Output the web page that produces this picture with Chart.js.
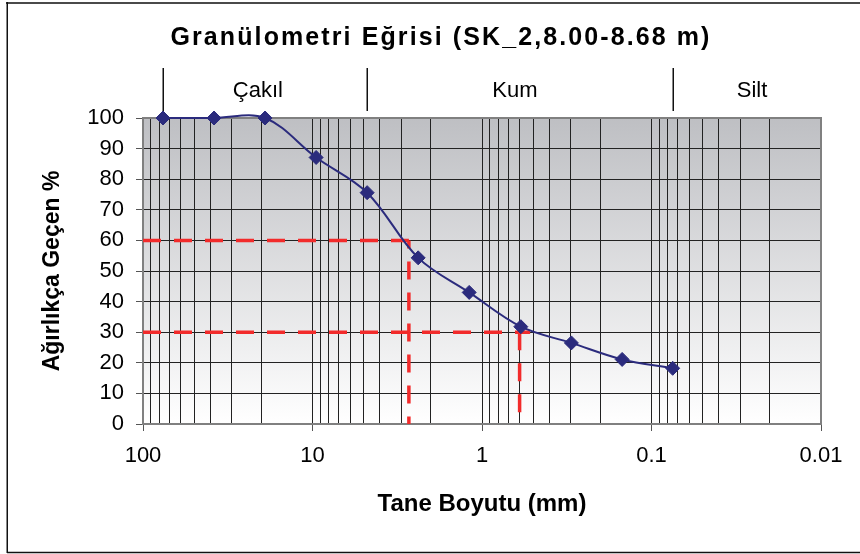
<!DOCTYPE html>
<html>
<head>
<meta charset="utf-8">
<script src="https://cdn.jsdelivr.net/npm/chart.js@4.4.0/dist/chart.umd.min.js"></script>
<style>
  html, body { margin: 0; padding: 0; background: #ffffff; }
  #wrap { width: 860px; height: 554px; }
</style>
</head>
<body>
<div id="wrap"><canvas id="c" width="860" height="554"></canvas></div>
<script>
// ---- data ----
const grainSize = [76.2, 38.1, 19.05, 9.52, 4.76, 2.38, 1.19, 0.59, 0.297, 0.149, 0.075];
const percentPassing = [100, 100, 100, 87.1, 75.6, 54.3, 43.0, 31.8, 26.5, 21.1, 18.2];
const d60Size = 2.7;
const d30Size = 0.6;
const d30LineEnd = 0.52;
const yTicks = [0, 10, 20, 30, 40, 50, 60, 70, 80, 90, 100];
const xMajorTicks = [100, 10, 1, 0.1, 0.01];
const soilBoundaries = [76.2, 4.75, 0.075];
const soilNames = ['Çakıl', 'Kum', 'Silt'];
const soilLabelAt = [21, 0.64, 0.0255];
const titleText = 'Granülometri Eğrisi (SK_2,8.00-8.68 m)';
const xTitle = 'Tane Boyutu (mm)';
const yTitle = 'Ağırlıkça Geçen %';

// log grid values 0.01 ... 100
const xGridValues = [];
for (let e = -2; e <= 1; e++) {
  for (let m = 1; m <= 9; m++) xGridValues.push(Number((m * Math.pow(10, e)).toPrecision(6)));
}
xGridValues.push(100);

const FONT = '"Liberation Sans", Arial, Helvetica, sans-serif';
Chart.defaults.font.family = FONT;
Chart.defaults.color = '#000';

const decor = {
  id: 'decor',
  beforeDraw(chart) {
    const { ctx, chartArea: a } = chart;
    ctx.save();
    // plot background gradient
    const g = ctx.createLinearGradient(0, a.top, 0, a.bottom);
    g.addColorStop(0, '#bebfc3');
    g.addColorStop(1, '#ffffff');
    ctx.fillStyle = g;
    ctx.fillRect(a.left, a.top, a.right - a.left, a.bottom - a.top);
    // outer frame
    ctx.strokeStyle = '#4a4a4a';
    ctx.lineWidth = 2;
    ctx.beginPath(); ctx.moveTo(6, 3); ctx.lineTo(chart.width, 3); ctx.stroke();
    ctx.strokeStyle = '#111';
    ctx.lineWidth = 1.5;
    ctx.beginPath(); ctx.moveTo(7.25, 2); ctx.lineTo(7.25, 553); ctx.stroke();
    ctx.beginPath(); ctx.moveTo(7, 552.5); ctx.lineTo(chart.width, 552.5); ctx.stroke();
    // title
    ctx.fillStyle = '#000';
    ctx.font = 'bold 25px ' + FONT;
    try { ctx.letterSpacing = '2.1px'; } catch (e) {}
    ctx.textAlign = 'center';
    ctx.textBaseline = 'alphabetic';
    ctx.fillText(titleText, 441, 45);
    try { ctx.letterSpacing = '0px'; } catch (e) {}
    // soil class band
    const xs = chart.scales.x;
    ctx.strokeStyle = '#111';
    ctx.lineWidth = 1.5;
    soilBoundaries.forEach(v => {
      const px = Math.round(xs.getPixelForValue(v)) + 0.25;
      ctx.beginPath(); ctx.moveTo(px, 68); ctx.lineTo(px, 111); ctx.stroke();
    });
    ctx.font = '22px ' + FONT;
    ctx.textBaseline = 'middle';
    soilNames.forEach((n, i) => {
      ctx.fillText(n, xs.getPixelForValue(soilLabelAt[i]), 91);
    });
    ctx.restore();
  },
  beforeDatasetsDraw(chart) {
    const { ctx, chartArea: a } = chart;
    ctx.save();
    ctx.strokeStyle = '#808080';
    ctx.lineWidth = 2;
    ctx.strokeRect(a.left, a.top, a.right - a.left, a.bottom - a.top);
    ctx.restore();
  }
};

const RED = '#f22b2b';
const redLine = (pts, offset) => ({
  data: pts,
  showLine: true,
  borderColor: RED,
  backgroundColor: RED,
  borderWidth: 3.5,
  borderDash: [18, 13],
  borderDashOffset: offset || 0,
  pointRadius: 0,
  pointHoverRadius: 0,
  tension: 0,
  clip: false
});

new Chart(document.getElementById('c'), {
  type: 'scatter',
  data: {
    datasets: [
      {
        data: grainSize.map((x, i) => ({ x, y: percentPassing[i] })),
        showLine: true,
        borderColor: '#2b2b7d',
        backgroundColor: '#2b2b7d',
        borderWidth: 2,
        pointStyle: 'rectRot',
        pointRadius: 7,
        pointBorderWidth: 1,
        tension: 0.35,
        capBezierPoints: false,
        clip: false
      },
      redLine([{ x: 100, y: 60 }, { x: d60Size, y: 60 }]),
      redLine([{ x: d60Size, y: 60 }, { x: d60Size, y: 0 }], 10),
      redLine([{ x: 100, y: 30 }, { x: d30LineEnd, y: 30 }]),
      redLine([{ x: d30Size, y: 30 }, { x: d30Size, y: 0 }])
    ]
  },
  options: {
    responsive: false,
    animation: false,
    events: [],
    layout: { padding: { top: 118, right: 39, bottom: 0, left: 0 } },
    plugins: { legend: { display: false }, tooltip: { enabled: false }, title: { display: false } },
    scales: {
      x: {
        type: 'logarithmic',
        reverse: true,
        min: 0.01,
        max: 100,
        afterBuildTicks: s => { s.ticks = xGridValues.map(v => ({ value: v })); },
        afterFit: s => { s.height = 130; },
        ticks: {
          autoSkip: false,
          maxRotation: 0,
          minRotation: 0,
          padding: 12,
          font: { size: 22 },
          color: '#000',
          callback: v => (xMajorTicks.includes(v) ? String(v) : '')
        },
        grid: {
          color: '#222',
          lineWidth: 1,
          tickLength: 7,
          tickColor: c => (c.tick && xMajorTicks.includes(c.tick.value)) ? '#555' : 'rgba(0,0,0,0)'
        },
        border: { display: false },
        title: {
          display: true, text: xTitle, color: '#000',
          font: { size: 24, weight: 'bold' },
          padding: { top: 0, bottom: 35 }
        }
      },
      y: {
        min: 0,
        max: 100,
        afterBuildTicks: s => { s.ticks = yTicks.map(v => ({ value: v })); },
        afterFit: s => { s.width = 143; },
        ticks: { font: { size: 22 }, color: '#000', padding: 12 },
        grid: { color: '#222', lineWidth: 1, tickLength: 7, tickColor: '#555' },
        border: { display: false },
        title: {
          display: true, text: yTitle, color: '#000',
          font: { size: 23, weight: 'bold' },
          padding: { top: 39, bottom: 0 }
        }
      }
    }
  },
  plugins: [decor]
});
</script>
</body>
</html>
